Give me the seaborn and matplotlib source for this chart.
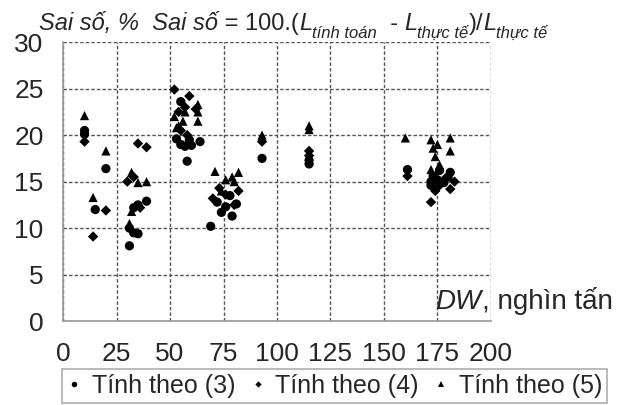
import pandas as pd
import matplotlib
matplotlib.use('Agg')
import matplotlib.pyplot as plt
import seaborn as sns

# du lieu doc tu hinh: (DW nghin tan, sai so %)
dw_3 = [10, 10, 20, 15, 33, 35, 39, 31, 33, 35, 31, 55, 53, 55, 57, 59, 60, 64, 58,
        69, 72, 74, 76, 79, 78, 81, 93, 115, 115, 161, 172, 173, 175, 176, 180, 181, 172, 178]
err_3 = [20.5, 20.1, 16.4, 12.0, 12.2, 12.5, 12.9, 10.0, 9.5, 9.4, 8.1, 23.6, 19.6, 19.0, 18.8,
         19.5, 18.9, 19.3, 17.2, 10.2, 12.8, 11.7, 12.3, 11.3, 13.5, 12.6, 17.5, 17.3, 16.9,
         16.3, 15.0, 15.6, 15.2, 16.2, 15.5, 16.0, 14.6, 14.9]

dw_4 = [10, 14, 20, 35, 39, 30, 33, 36, 52, 59, 54, 57, 55, 58, 62, 70, 73, 76, 80, 82,
        93, 115, 115, 161, 172, 174, 176, 178, 181, 183]
err_4 = [19.3, 9.1, 11.9, 19.1, 18.7, 15.0, 15.5, 12.2, 24.9, 24.2, 22.5, 23.0, 20.5, 20.0,
         22.8, 13.2, 14.3, 13.6, 12.5, 14.0, 19.3, 17.8, 18.3, 15.6, 12.8, 14.0, 14.6, 15.2,
         14.2, 15.0]

dw_5 = [10, 14, 20, 32, 35, 39, 32, 31, 52, 54, 56, 57, 53, 63, 63, 63, 71, 76, 79, 82,
        80, 74, 93, 115, 115, 160, 172, 173, 174, 176, 175, 181, 181, 172]
err_5 = [22.1, 13.3, 18.3, 16.0, 14.9, 15.0, 11.8, 10.5, 22.0, 21.0, 21.5, 22.5, 20.8, 23.3,
         22.5, 21.5, 16.1, 15.2, 15.5, 16.0, 15.0, 14.0, 20.0, 21.0, 20.6, 19.7, 19.5, 18.6,
         17.7, 16.8, 19.0, 19.7, 18.3, 16.3]

labels = ['Tính theo (3)', 'Tính theo (4)', 'Tính theo (5)']
x_ticks = [0, 25, 50, 75, 100, 125, 150, 175, 200]
y_ticks = [0, 5, 10, 15, 20, 25, 30]

df = pd.concat([
    pd.DataFrame({'DW': dw_3, 'err': err_3, 'kieu': labels[0]}),
    pd.DataFrame({'DW': dw_4, 'err': err_4, 'kieu': labels[1]}),
    pd.DataFrame({'DW': dw_5, 'err': err_5, 'kieu': labels[2]}),
])

sns.set_style('white')
plt.rcParams['font.family'] = ['Liberation Sans', 'DejaVu Sans']

fig = plt.figure(figsize=(6.19, 4.05), dpi=100)
ax = fig.add_axes([0.102, 0.207, 0.691, 0.689])

sns.scatterplot(data=df, x='DW', y='err', style='kieu', size='kieu',
                markers={labels[0]: 'o', labels[1]: 'D', labels[2]: '^'},
                sizes={labels[0]: 44, labels[1]: 28, labels[2]: 44},
                color='black', edgecolor='black', linewidth=0, ax=ax, legend=True)

ax.set_xlim(0, 200)
ax.set_ylim(0, 30)
ax.set_xticks(x_ticks)
ax.set_yticks(y_ticks)
ax.tick_params(labelsize=19, length=5, color='#999999', direction='out')
ax.tick_params(axis='x', pad=10)
ax.tick_params(axis='y', pad=9)
ax.set_xlabel('')
ax.set_ylabel('')
ax.grid(True, linestyle=(0, (2.5, 1.5)), color='#555555', linewidth=1.0)
for s in ['top', 'right']:
    ax.spines[s].set_visible(False)
for s in ['left', 'bottom']:
    ax.spines[s].set_color('#999999')
    ax.spines[s].set_linewidth(1.2)

# tieu de truc y va cong thuc
t = fig.text(0.063, 0.925, 'Sai số, %', fontsize=17, style='italic', va='baseline')
t = ax.annotate('  Sai số', xy=(1, 0), xycoords=t, fontsize=17, style='italic', va='bottom')
t = ax.annotate(' = 100.(', xy=(1, 0), xycoords=t, fontsize=17, va='bottom')
t = ax.annotate('L', xy=(1, 0), xycoords=t, fontsize=17, style='italic', va='bottom')
t = ax.annotate('tính toán', xy=(1, 0), xycoords=t, xytext=(0, -4), textcoords='offset points',
                fontsize=12, style='italic', va='bottom')
t = ax.annotate('  - ', xy=(1, 0), xycoords=t, xytext=(0, 4), textcoords='offset points',
                fontsize=17, va='bottom')
t = ax.annotate('L', xy=(1, 0), xycoords=t, fontsize=17, style='italic', va='bottom')
t = ax.annotate('thực tế', xy=(1, 0), xycoords=t, xytext=(0, -4), textcoords='offset points',
                fontsize=12, style='italic', va='bottom')
t = ax.annotate(')/', xy=(1, 0), xycoords=t, xytext=(0, 4), textcoords='offset points',
                fontsize=17, va='bottom')
t = ax.annotate('L', xy=(1, 0), xycoords=t, fontsize=17, style='italic', va='bottom')
t = ax.annotate('thực tế', xy=(1, 0), xycoords=t, xytext=(0, -4), textcoords='offset points',
                fontsize=12, style='italic', va='bottom')

# nhan truc x
t = ax.text(174, 1.3, 'DW', fontsize=20, style='italic', va='baseline')
ax.annotate(', nghìn tấn', xy=(1, 0), xycoords=t, fontsize=20, va='bottom')

handles, lbls = ax.get_legend_handles_labels()
ax.get_legend().remove()
leg = fig.legend(handles, lbls, loc='center', bbox_to_anchor=(0.54, 0.047), ncol=3,
                 fontsize=18, markerscale=0.6, frameon=True, fancybox=False,
                 edgecolor='#999999', handlelength=0.6, handletextpad=0.4,
                 columnspacing=0.6, borderpad=0.2)
leg.get_frame().set_linewidth(1.2)

fig.savefig('out.png', dpi=100)
